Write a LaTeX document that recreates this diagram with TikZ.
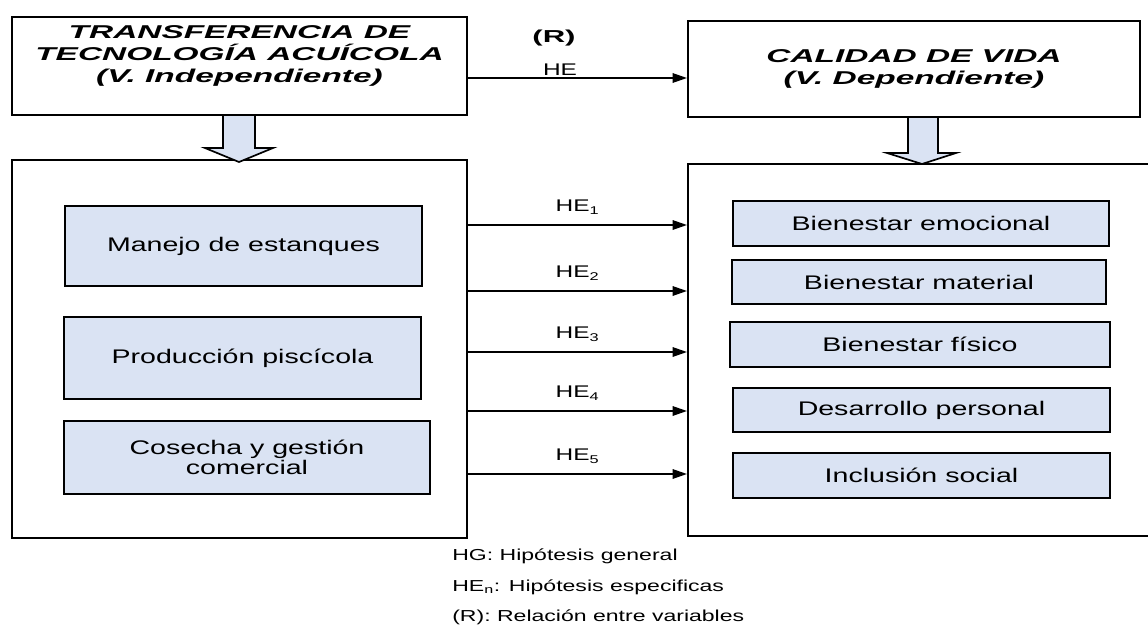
\documentclass[tikz,border=0pt]{standalone}
\usepackage{fontspec}
\setmainfont{Liberation Sans}[FakeStretch=1.45]
\newfontfamily\titulofont{Liberation Sans}[FakeStretch=1.8]
\usetikzlibrary{arrows.meta,positioning}
\definecolor{celeste}{RGB}{218,227,243}

\begin{document}
\begin{tikzpicture}[x=0.025cm, y=-0.025cm, >={Triangle[length=3.6mm,width=2.4mm]},
  caja/.style={draw, line width=1.4pt, rectangle, inner sep=0pt},
  sub/.style={draw, line width=1.3pt, fill=celeste, rectangle, align=center, font=\fontsize{14}{14.5}\selectfont},
  hip/.style={font=\fontsize{12}{14}\selectfont},
  leyenda/.style={anchor=west, inner sep=0pt, font=\fontsize{11.3}{13}\selectfont},
  titulo/.style={align=center, font=\titulofont\bfseries\itshape\fontsize{13.2}{15.6}\selectfont},
  bloque/.style={draw, line width=1.2pt, fill=celeste}]
\clip (0,0) rectangle (1148,624);

% Variables
\node[caja, minimum width=11.375cm, minimum height=2.45cm] (indep) at (239.5,66) {};
\node[titulo] (indeptxt) at (239.5,56) {TRANSFERENCIA DE\\TECNOLOGÍA ACUÍCOLA\\(V. Independiente)};
\node[caja, titulo, minimum width=11.3cm, minimum height=2.4cm] (dep) at (914,69) {CALIDAD DE VIDA\\(V. Dependiente)};

% Dimensiones
\node[caja, minimum width=11.375cm, minimum height=9.45cm] (dimind) at (239.5,349) {};
\node[caja, minimum width=12.05cm, minimum height=9.3cm] (dimdep) at (929,350) {};

\node[sub, minimum width=8.925cm, minimum height=2cm] (manejo) at (243.5,246) {Manejo de estanques};
\node[sub, minimum width=8.925cm, minimum height=2.05cm] (prod) at (242.5,358) {Producción piscícola};
\node[sub, minimum width=9.15cm, minimum height=1.825cm] (cosecha) at (247,457.5) {Cosecha y gestión\\comercial};

\node[sub, minimum width=9.4cm, minimum height=1.125cm] (emoc) at (921,223.5) {Bienestar emocional};
\node[sub, minimum width=9.35cm, minimum height=1.1cm] (mat) at (919,282) {Bienestar material};
\node[sub, minimum width=9.5cm, minimum height=1.125cm] (fis) at (920,344.5) {Bienestar físico};
\node[sub, minimum width=9.425cm, minimum height=1.1cm] (desa) at (921.5,410) {Desarrollo personal};
\node[sub, minimum width=9.425cm, minimum height=1.125cm] (incl) at (921.5,475.5) {Inclusión social};

% Flechas de bloque
\draw[bloque] (223,115) -- (255,115) -- (255,148) -- (273,148) -- (239,162) -- (205,148) -- (223,148) -- cycle;
\draw[bloque] (908,117) -- (938,117) -- (938,153) -- (956,153) -- (922,164) -- (887,153) -- (908,153) -- cycle;

% Hipotesis
\coordinate (fila) at (0,78);
\draw[->, line width=1pt] (indep.east |- fila) -- node[hip, pos=0.42, yshift=0.2cm] (he) {HE} (dep.west |- fila);
\node[font=\titulofont\bfseries\fontsize{12.3}{14}\selectfont] (rel) at (554,38) {(R)};

\foreach \y [count=\i] in {225,291,352,411,474} {
  \coordinate (f\i) at (0,\y);
  \draw[->, line width=1pt] (dimind.east |- f\i) -- node[hip, yshift=0.45cm] (he\i) {HE\textsubscript{\i}} (dimdep.west |- f\i);
}

% Leyenda
\node[leyenda] (hg) at (452,556) {HG: Hipótesis general};
\node[leyenda] (hen) at ([yshift=-0.775cm]hg.west) {HE\textsubscript{n}: Hipótesis especificas};
\node[leyenda] (rr) at ([yshift=-0.75cm]hen.west) {(R): Relación entre variables};
\end{tikzpicture}
\end{document}
